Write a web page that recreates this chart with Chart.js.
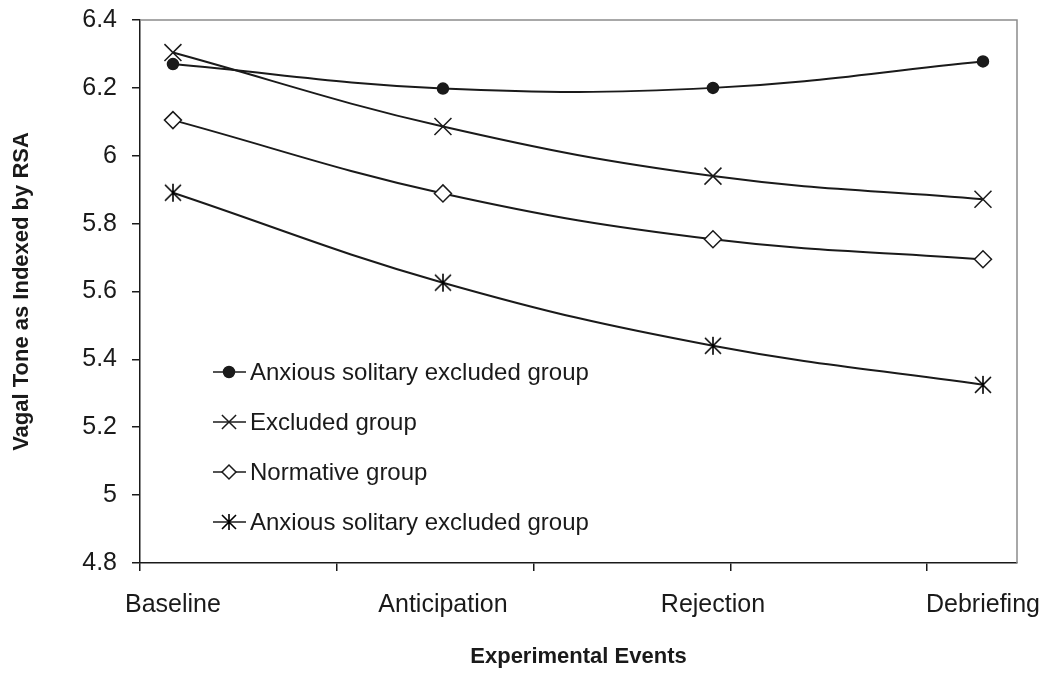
<!DOCTYPE html>
<html>
<head>
<meta charset="utf-8">
<script src="https://cdn.jsdelivr.net/npm/chart.js@4"></script>
<style>
  html, body { margin: 0; padding: 0; background: #fff; }
  #wrap { width: 1050px; height: 675px; }
</style>
</head>
<body>
<div id="wrap"><canvas id="chart"></canvas></div>
<script>
// datos
const events = ['Baseline', 'Anticipation', 'Rejection', 'Debriefing'];
const seriesNames = ['Anxious solitary excluded group', 'Excluded group', 'Normative group', 'Anxious solitary excluded group'];
const anxiousA  = [6.270, 6.198, 6.200, 6.278];
const excluded  = [6.304, 6.086, 5.940, 5.872];
const normative = [6.105, 5.889, 5.754, 5.695];
const anxiousB  = [5.891, 5.626, 5.440, 5.325];
const yTicks = [4.8, 5, 5.2, 5.4, 5.6, 5.8, 6, 6.2, 6.4];

const ink = '#1a1a1a';
const font = "'Liberation Sans', Arial, sans-serif";

// marcador asterisco tipo Excel (vertical + X)
function makeStar(half) {
    const c = document.createElement('canvas');
    c.width = c.height = 2 * half + 4;
    const g = c.getContext('2d');
    const m = half + 2;
    g.strokeStyle = '#000';
    g.lineWidth = 1.6;
    g.beginPath();
    g.moveTo(m, m - half); g.lineTo(m, m + half);
    g.moveTo(m - half + 1, m - half + 1); g.lineTo(m + half - 1, m + half - 1);
    g.moveTo(m + half - 1, m - half + 1); g.lineTo(m - half + 1, m + half - 1);
    g.stroke();
    return c;
}
const starMarker = makeStar(9);
const starLegend = makeStar(8);

function toPoints(values) {
    return values.map((v, i) => ({ x: i + 1, y: v }));
}

function makeSet(label, values, style, radius, fill) {
    return {
        label: label,
        data: toPoints(values),
        xAxisID: 'x',
        yAxisID: 'y',
        borderColor: ink,
        borderWidth: 2,
        tension: 0.4,
        pointStyle: style,
        pointRadius: radius,
        pointHoverRadius: radius,
        pointBackgroundColor: fill,
        pointBorderColor: ink,
        pointBorderWidth: 1.5
    };
}

// sin relleno extra por las etiquetas de los extremos
function noOverflow(axis) {
    axis.paddingTop = 0;
    axis.paddingBottom = 0;
    axis.paddingLeft = 0;
    axis.paddingRight = 0;
}

// marco gris arriba y a la derecha
const frame = {
    id: 'frame',
    beforeDatasetsDraw(chart) {
        const a = chart.chartArea, ctx = chart.ctx;
        ctx.save();
        ctx.strokeStyle = '#8c8c8c';
        ctx.lineWidth = 1.5;
        ctx.beginPath();
        ctx.moveTo(a.left, a.top);
        ctx.lineTo(a.right, a.top);
        ctx.lineTo(a.right, a.bottom);
        ctx.stroke();
        ctx.restore();
    }
};

// leyenda dentro del área del gráfico
const insideLegend = {
    id: 'insideLegend',
    afterDatasetsDraw(chart) {
        const a = chart.chartArea, ctx = chart.ctx;
        ctx.save();
        ctx.font = '24px ' + font;
        ctx.textBaseline = 'middle';
        chart.data.datasets.forEach((ds, i) => {
            const y = a.top + 352 + i * 50;
            const x0 = a.left + 73;
            ctx.strokeStyle = ink;
            ctx.lineWidth = 1.6;
            ctx.beginPath();
            ctx.moveTo(x0, y);
            ctx.lineTo(x0 + 33, y);
            ctx.stroke();
            ctx.fillStyle = ds.pointBackgroundColor;
            ctx.lineWidth = ds.pointBorderWidth;
            const style = ds.pointStyle === starMarker ? starLegend : ds.pointStyle;
            if (Chart.helpers && Chart.helpers.drawPoint) {
                const r = style === 'circle' ? 5.5 : style === 'crossRot' ? 10 : 7;
                Chart.helpers.drawPoint(ctx, {
                    pointStyle: style,
                    radius: r,
                    borderWidth: ds.pointBorderWidth,
                    rotation: 0
                }, x0 + 16, y);
            }
            ctx.fillStyle = ink;
            ctx.fillText(ds.label, a.left + 110, y + 1);
        });
        ctx.restore();
    }
};

new Chart(document.getElementById('chart'), {
    type: 'line',
    data: {
        datasets: [
            makeSet(seriesNames[0], anxiousA, 'circle', 5.5, ink),
            makeSet(seriesNames[1], excluded, 'crossRot', 12, '#fff'),
            makeSet(seriesNames[2], normative, 'rectRot', 8.5, '#fff'),
            makeSet(seriesNames[3], anxiousB, starMarker, 10, '#fff')
        ]
    },
    options: {
        responsive: true,
        maintainAspectRatio: false,
        animation: false,
        layout: { padding: { top: 20, right: 33, left: 0, bottom: 0 } },
        plugins: {
            legend: { display: false },
            tooltip: { enabled: false }
        },
        scales: {
            x: {
                type: 'linear',
                position: 'bottom',
                weight: 1,
                min: 0.878,
                max: 4.126,
                afterBuildTicks(axis) {
                    axis.ticks = events.map((_, i) => ({ value: i + 1 }));
                },
                ticks: {
                    autoSkip: false,
                    maxRotation: 0,
                    padding: 17,
                    color: ink,
                    font: { family: font, size: 25 },
                    callback: (v) => events[v - 1]
                },
                grid: { display: false, drawTicks: false },
                border: { display: false },
                title: {
                    display: true,
                    text: 'Experimental Events',
                    color: ink,
                    font: { family: font, size: 22, weight: 'bold' },
                    padding: { top: 0, bottom: 5 }
                },
                afterFit(axis) { axis.height = 102; noOverflow(axis); }
            },
            // marcas del eje x (no coinciden con las etiquetas)
            xt: {
                type: 'linear',
                position: 'bottom',
                weight: 0,
                min: 0,
                max: 4.457,
                ticks: { stepSize: 1, includeBounds: false, display: false },
                grid: { drawOnChartArea: false, drawTicks: true, tickLength: 8, color: ink, lineWidth: 1.5 },
                border: { display: true, color: ink, width: 1.5 },
                afterFit(axis) { axis.height = 10; noOverflow(axis); }
            },
            y: {
                min: 4.8,
                max: 6.4,
                afterBuildTicks(axis) {
                    axis.ticks = yTicks.map(v => ({ value: v }));
                },
                ticks: {
                    padding: 15,
                    color: ink,
                    font: { family: font, size: 25 },
                    callback: (v) => String(Math.round(v * 10) / 10)
                },
                grid: { drawOnChartArea: false, drawTicks: true, tickLength: 8, color: ink, lineWidth: 1.5 },
                border: { display: true, color: ink, width: 1.5 },
                title: {
                    display: true,
                    text: 'Vagal Tone as Indexed by RSA',
                    color: ink,
                    font: { family: font, size: 22, weight: 'bold' },
                    padding: { top: 9, bottom: 0 }
                },
                afterFit(axis) { axis.width = 140; noOverflow(axis); }
            }
        }
    },
    plugins: [frame, insideLegend]
});
</script>
</body>
</html>
